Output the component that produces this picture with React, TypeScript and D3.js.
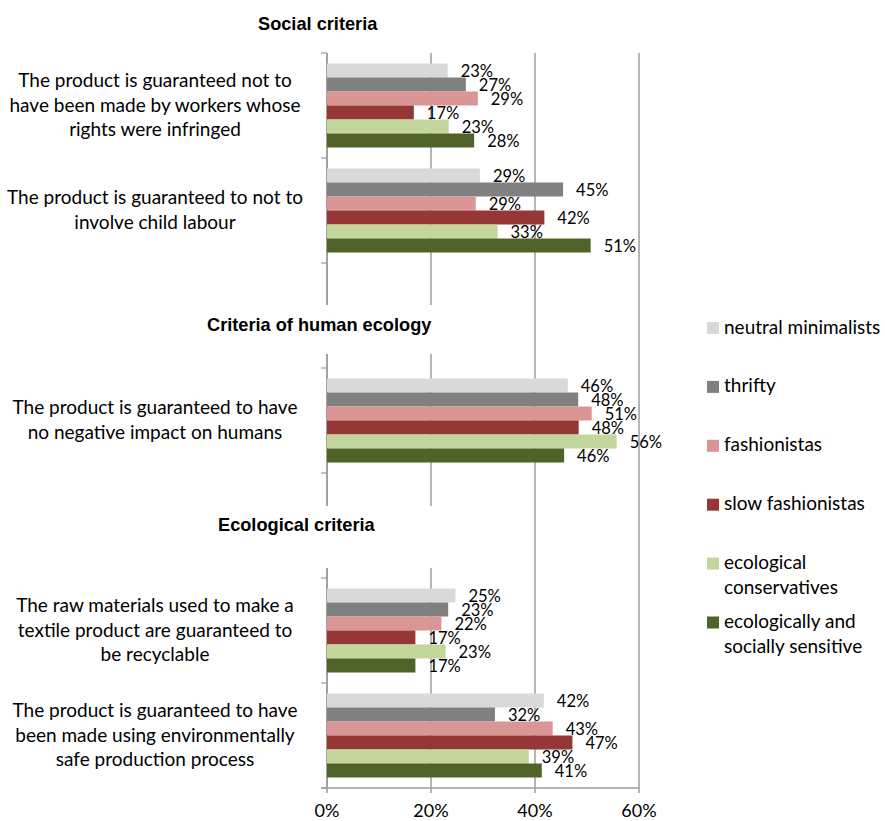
import React from "react";
import * as d3 from "d3";

const categoryLines: string[][] = [
  ["The product is guaranteed not to", "have been made by workers whose", "rights were infringed"],
  ["The product is guaranteed to not to", "involve child labour"],
  [],
  ["The product is guaranteed to have", "no negative impact on humans"],
  [],
  ["The raw materials used to make a", "textile product are guaranteed to", "be recyclable"],
  ["The product is guaranteed to have", "been made using environmentally", "safe production process"],
];
const categoryIds = ["rights", "child", "gap1", "humans", "gap2", "recyclable", "safe"];

const seriesNames = [
  "neutral minimalists",
  "thrifty",
  "fashionistas",
  "slow fashionistas",
  "ecological conservatives",
  "ecologically and socially sensitive",
];
const legendLines: string[][] = [
  ["neutral minimalists"],
  ["thrifty"],
  ["fashionistas"],
  ["slow fashionistas"],
  ["ecological", "conservatives"],
  ["ecologically and", "socially sensitive"],
];
const seriesColors = ["#D9D9D9", "#808080", "#D99694", "#953735", "#C3D69B", "#4F6228"];

const neutralMinimalists = [23.2, 29.4, null, 46.3, null, 24.7, 41.7];
const thrifty = [26.7, 45.4, null, 48.3, null, 23.3, 32.3];
const fashionistas = [29.0, 28.6, null, 50.9, null, 22.0, 43.4];
const slowFashionistas = [16.7, 41.8, null, 48.4, null, 17.0, 47.2];
const ecologicalConservatives = [23.4, 32.8, null, 55.7, null, 22.8, 38.8];
const ecoSociallySensitive = [28.3, 50.7, null, 45.6, null, 17.0, 41.3];
const seriesValues = [
  neutralMinimalists,
  thrifty,
  fashionistas,
  slowFashionistas,
  ecologicalConservatives,
  ecoSociallySensitive,
];

const xTicks = [0, 20, 40, 60];

const headings = [
  { text: "Social criteria", x: 258, y: 30 },
  { text: "Criteria of human ecology", x: 207, y: 331, box: [200, 305, 245, 49] },
  { text: "Ecological criteria", x: 218, y: 531, box: [200, 506, 245, 62] },
];

const W = 885;
const H = 821;
const plot = { left: 327, right: 639, top: 53, bottom: 788 };
const labelFont = "Lato, 'Open Sans', sans-serif";
const headFont = "'Liberation Sans', Arial, sans-serif";
const gridColor = "#9C9C9C";

export default function App() {
  const x = d3.scaleLinear().domain([0, 60]).range([plot.left, plot.right]);
  const y = d3.scaleBand<string>().domain(categoryIds).range([plot.top, plot.bottom]).padding(0);
  const bw = y.bandwidth();
  const inner = d3
    .scaleBand<number>()
    .domain(d3.range(seriesNames.length))
    .range([bw * 0.1, bw * 0.9])
    .padding(0);
  const boundaries = d3.range(categoryIds.length + 1).map((i) => plot.top + i * bw);

  return (
    <svg
      width={W}
      height={H}
      style={{ position: "absolute", left: 0, top: 0, background: "#fff" }}
      xmlns="http://www.w3.org/2000/svg"
    >
      <rect x={0} y={0} width={W} height={H} fill="#fff" />
      {xTicks.map((t) => (
        <line
          key={"g" + t}
          x1={x(t)}
          x2={x(t)}
          y1={plot.top}
          y2={plot.bottom + 5}
          stroke={gridColor}
          strokeWidth={1.5}
        />
      ))}
      <line x1={plot.left} x2={plot.left} y1={plot.top} y2={plot.bottom} stroke={gridColor} strokeWidth={1.5} />
      {boundaries.map((b, i) => (
        <line key={"yt" + i} x1={plot.left - 6} x2={plot.left} y1={b} y2={b} stroke={gridColor} strokeWidth={1.2} />
      ))}
      <line x1={plot.left - 6} x2={plot.right} y1={plot.bottom} y2={plot.bottom} stroke={gridColor} strokeWidth={1.5} />

      {seriesValues.map((vals, si) =>
        vals.map((v, ci) =>
          v == null ? null : (
            <rect
              key={`b${si}-${ci}`}
              x={x(0)}
              y={(y(categoryIds[ci]) as number) + (inner(si) as number)}
              width={x(v) - x(0)}
              height={inner.bandwidth()}
              fill={seriesColors[si]}
            />
          )
        )
      )}
      {seriesValues.map((vals, si) =>
        vals.map((v, ci) =>
          v == null ? null : (
            <text
              key={`l${si}-${ci}`}
              x={x(v) + 13}
              y={(y(categoryIds[ci]) as number) + (inner(si) as number) + inner.bandwidth() / 2 + 6}
              fontFamily={labelFont}
              fontSize={16.5}
              fill="#000"
            >
              {Math.round(v)}%
            </text>
          )
        )
      )}

      {categoryLines.map((lines, ci) => {
        const c = (y(categoryIds[ci]) as number) + bw / 2;
        const lh = 24.8;
        return lines.map((ln, li) => (
          <text
            key={`c${ci}-${li}`}
            x={155}
            y={c - ((lines.length - 1) / 2) * lh + li * lh + 6}
            textAnchor="middle"
            fontFamily={labelFont}
            fontSize={19}
            fill="#000"
          >
            {ln}
          </text>
        ));
      })}

      {xTicks.map((t) => (
        <text
          key={"xt" + t}
          x={x(t)}
          y={817}
          textAnchor="middle"
          fontFamily={labelFont}
          fontSize={18}
          fill="#000"
        >
          {t}%
        </text>
      ))}

      {headings.map((h, i) => (
        <g key={"h" + i}>
          {h.box && <rect x={h.box[0]} y={h.box[1]} width={h.box[2]} height={h.box[3]} fill="#fff" />}
          <text x={h.x} y={h.y} fontFamily={headFont} fontWeight="bold" fontSize={18.2} fill="#000">
            {h.text}
          </text>
        </g>
      ))}

      {legendLines.map((lines, si) => {
        const top = 322 + si * 58.9;
        return (
          <g key={"lg" + si}>
            <rect x={707} y={top} width={12} height={12} fill={seriesColors[si]} />
            {lines.map((ln, li) => (
              <text
                key={li}
                x={724}
                y={top + 11.5 + li * 25}
                fontFamily={labelFont}
                fontSize={19}
                fill="#000"
              >
                {ln}
              </text>
            ))}
          </g>
        );
      })}
    </svg>
  );
}
